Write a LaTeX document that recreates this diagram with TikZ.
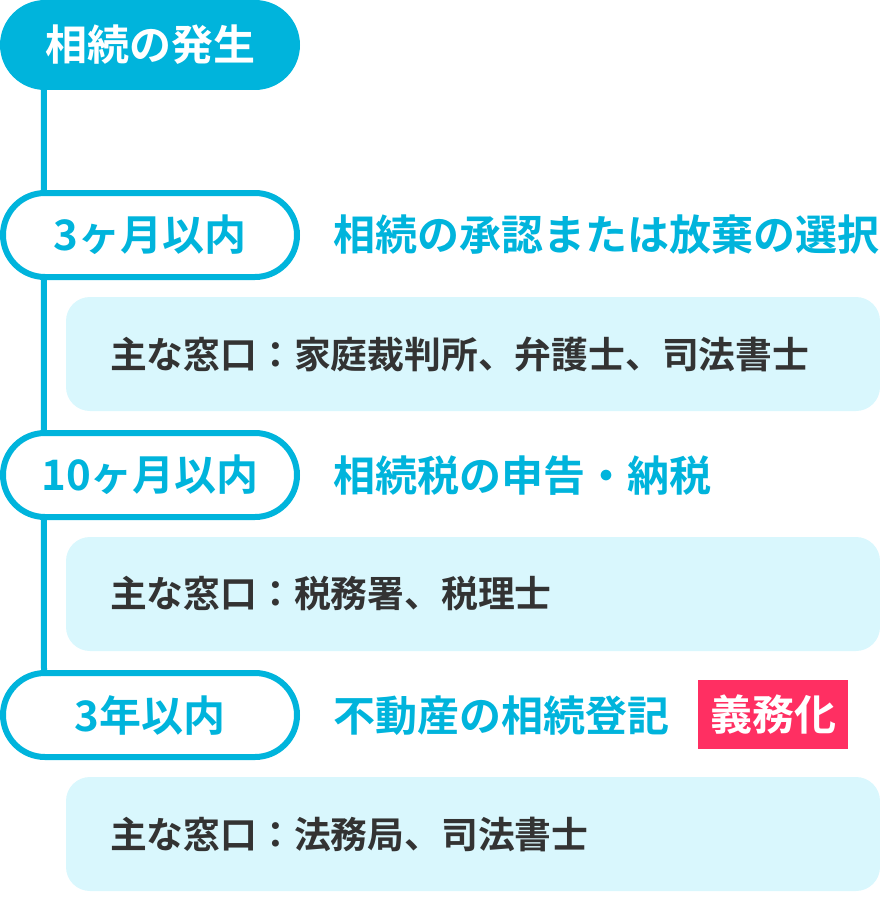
\documentclass[tikz,border=0pt]{standalone}
\usepackage{fontspec}
\setmainfont{Noto Sans CJK JP}[BoldFont={Noto Sans CJK JP Bold}]
\usetikzlibrary{backgrounds}
\definecolor{mainblue}{HTML}{00B4DC}
\definecolor{paleblue}{HTML}{D9F7FD}
\definecolor{alertpink}{HTML}{FF2F62}
\definecolor{darktext}{HTML}{333333}
\newcommand{\headfont}{\bfseries\fontsize{42}{48}\selectfont}
\newcommand{\bodyfont}{\bfseries\fontsize{36.8}{42}\selectfont}

\begin{document}
\begin{tikzpicture}[x=1pt,y=-1pt]
	\tikzstyle{start}=[rounded corners=45pt,fill=mainblue,text=white,minimum width=300pt,minimum height=90pt,inner sep=0pt,font=\headfont]
	\tikzstyle{period}=[rounded corners=42pt,draw=mainblue,line width=6pt,fill=white,text=mainblue,minimum width=294pt,minimum height=84pt,inner sep=0pt,font=\headfont]
	\tikzstyle{task}=[anchor=west,text=mainblue,inner sep=0pt,font=\headfont]
	\tikzstyle{office}=[rounded corners=24pt,fill=paleblue,text=darktext,minimum width=814pt,minimum height=114pt,text width=726pt,inner xsep=44pt,align=left,font=\bodyfont]
	\tikzstyle{badge}=[fill=alertpink,text=white,minimum width=150pt,minimum height=69pt,inner sep=0pt,font=\headfont]
	\tikzstyle{timeline}=[draw=mainblue,line width=6pt]
	\useasboundingbox (0,0) rectangle (880,915);
	\begin{scope}
		\node [start] (begin) at (150,45) {相続の発生};
		% 3 months
		\node [period] (p1) at (150,235) {3ヶ月以内};
		\node [task] (t1) at (333,235) {相続の承認または放棄の選択};
		\node [office] (o1) at (473,354) {主な窓口：家庭裁判所、弁護士、司法書士};
		% 10 months
		\node [period] (p2) at (150,475) {10ヶ月以内};
		\node [task] (t2) at (333,476) {相続税の申告・納税};
		\node [office] (o2) at (473,594) {主な窓口：税務署、税理士};
		% 3 years
		\node [period] (p3) at (150,715) {3年以内};
		\node [task] (t3) at (333,716) {不動産の相続登記};
		\node [badge] (b3) at (773,714.5) {義務化};
		\node [office] (o3) at (473,834) {主な窓口：法務局、司法書士};
	\end{scope}
	\begin{scope}[on background layer]
		\path[timeline] ([xshift=44pt]begin.south west) -- ([xshift=44pt]p3.north west);
	\end{scope}
\end{tikzpicture}
\end{document}
